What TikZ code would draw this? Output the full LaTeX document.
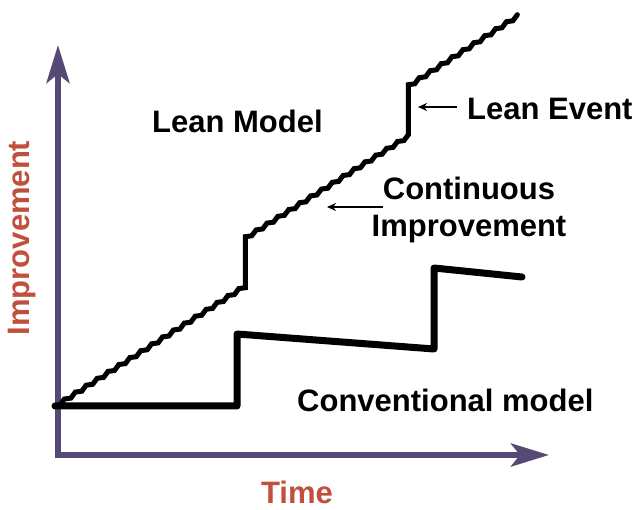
\documentclass[tikz,border=0pt]{standalone}
\usepackage{fontspec}
\setmainfont{Liberation Sans}
\usetikzlibrary{arrows.meta}
\definecolor{axiscol}{RGB}{86,74,116}
\definecolor{labred}{RGB}{192,80,60}
\begin{document}
\begin{tikzpicture}[x=1pt,y=-1pt,
  axisline/.style={draw=axiscol,line width=6pt,
    {Stealth[length=38pt,width=23pt,inset=9pt]}-{Stealth[length=38pt,width=23pt,inset=9pt]}},
  leanline/.style={draw=black,line width=5pt,line join=miter,line cap=round},
  convline/.style={draw=black,line width=7pt,line join=round,line cap=round},
  lbl/.style={font=\fontsize{31}{37}\selectfont\bfseries,inner sep=0pt,text=black},
  redlbl/.style={font=\fontsize{31}{37}\selectfont\bfseries,inner sep=0pt,text=labred},
  ptr/.style={draw=black,line width=1.6pt,-{Stealth[length=9pt,width=8pt]}}]
\useasboundingbox (0,0) rectangle (638,510);
% axes
\coordinate (ytip) at (58,45);
\coordinate (xtip) at (549,455);
\draw[axisline] (ytip) |- (xtip);
% conventional model
\coordinate (c0) at (55,406);
\coordinate (c1) at (237,406);
\coordinate (c2) at (237,334);
\coordinate (c3) at (434,349);
\coordinate (c4) at (434,268);
\coordinate (c5) at (522,277);
\draw[convline] (c0) -- (c1) -- (c2) -- (c3) -- (c4) -- (c5);
% lean model staircase
\coordinate (l0) at (60,405);
\draw[leanline] (l0)
  \foreach \i in {1,...,17}{ -- ++(4.4,-6.0) -- ++(6.5,-0.9) }
  -- ++(0,-51)
  \foreach \i in {1,...,15}{ -- ++(6.4,-0.9) -- ++(4.47,-5.9) }
  -- ++(0,-50)
  \foreach \i in {1,...,10}{ -- ++(6.4,-0.9) -- ++(4.5,-6.1) };
% labels
\node[lbl,anchor=base west] (leanmodel) at (152,133) {Lean Model};
\node[lbl,anchor=base west] (leanevent) at (467,120) {Lean Event};
\node[lbl,align=center] (contimp) at (469,210) {Continuous\\Improvement};
\node[lbl,anchor=base west] (conv) at (297,412) {Conventional model};
\node[redlbl,anchor=base] (time) at (297,504) {Time};
\node[redlbl,rotate=90] (impr) at (22,238) {Improvement};
% pointer arrows
\coordinate (letail) at (457,107);
\coordinate (letip) at (418,107);
\coordinate (citail) at (383,207);
\coordinate (citip) at (327,207);
\draw[ptr] (letail) -- (letip);
\draw[ptr] (citail) -- (citip);
\end{tikzpicture}
\end{document}
